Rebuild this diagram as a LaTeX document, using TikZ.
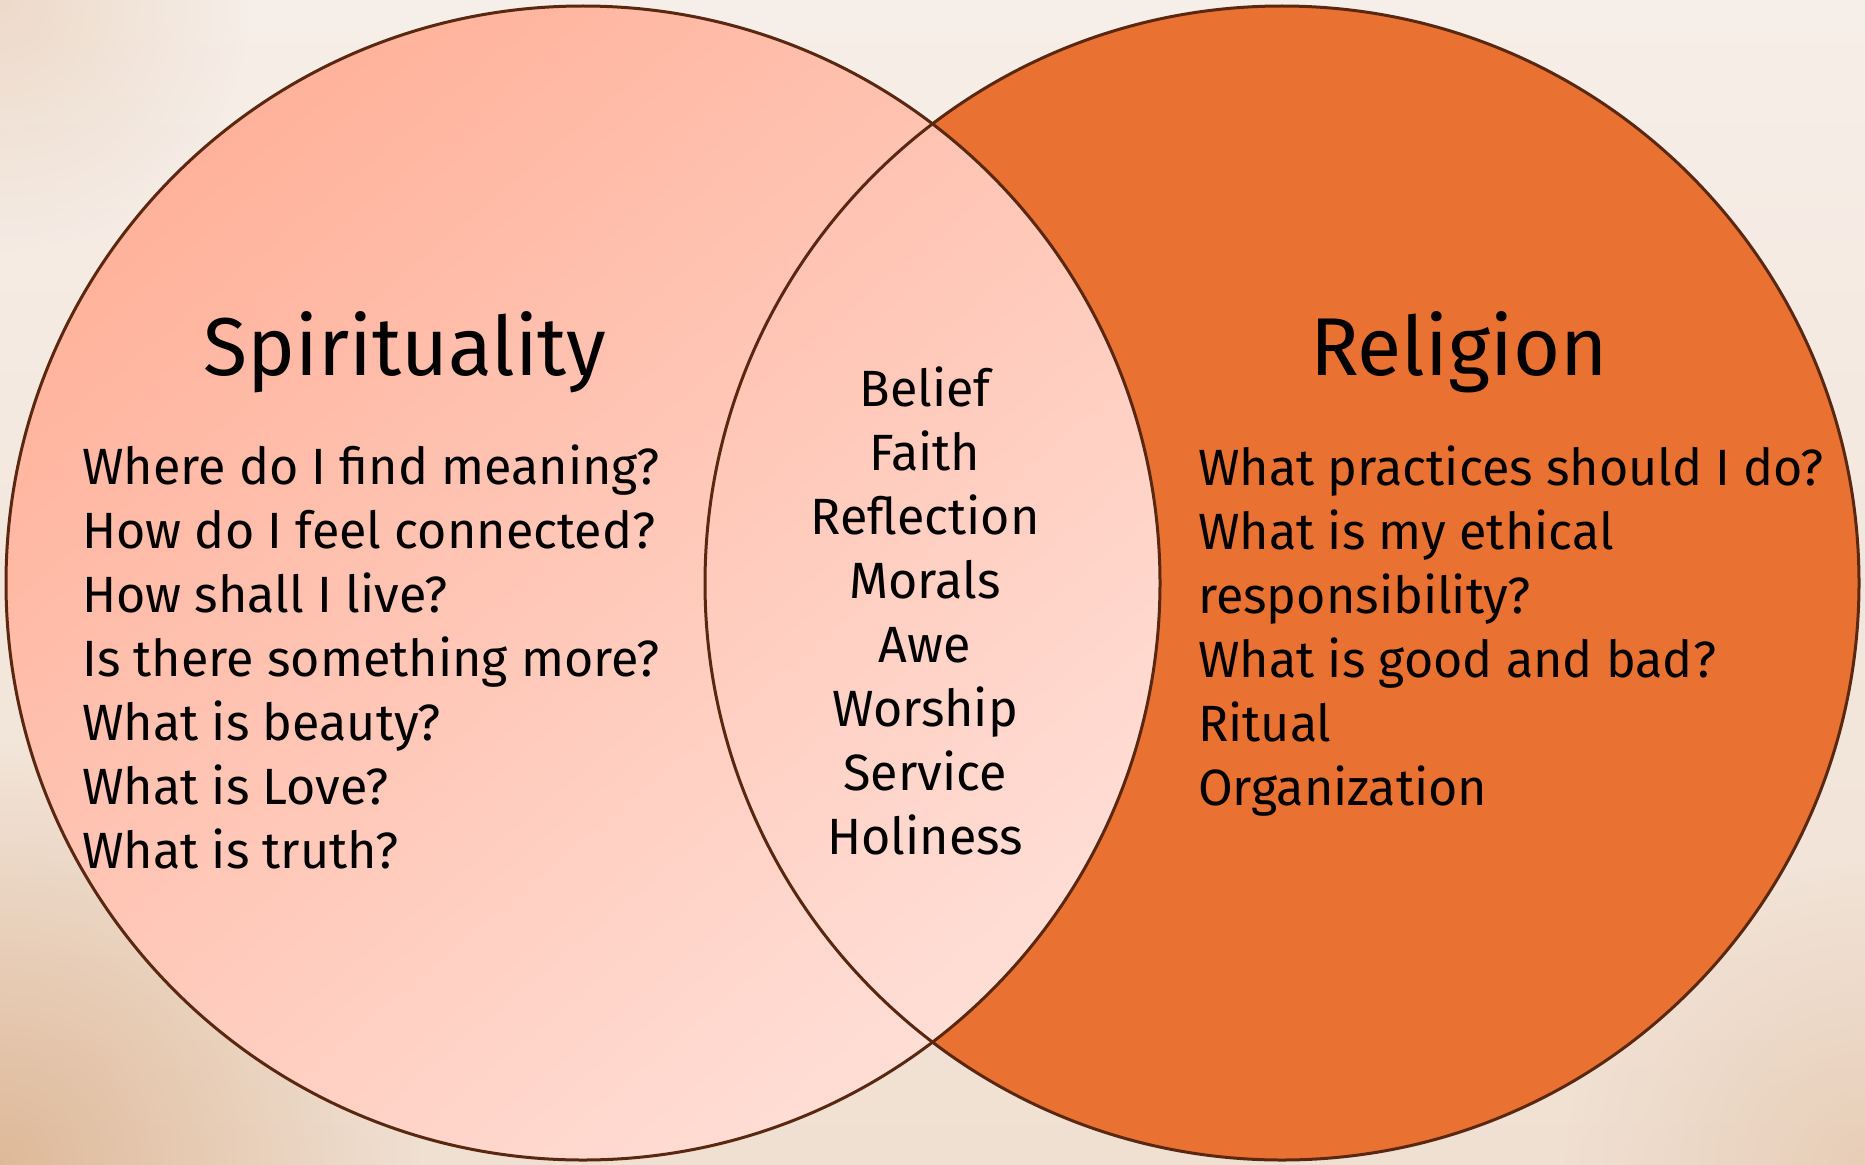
\documentclass[tikz,border=0pt]{standalone}
\usepackage{fontspec}
\setmainfont{Fira Sans}[FakeStretch=0.985]
\usetikzlibrary{fadings}
\tikzfading[name=softglow, inner color=transparent!0, outer color=transparent!100]
\definecolor{bgtop}{HTML}{F6EEE8}
\definecolor{bgbot}{HTML}{F0E0D2}
\definecolor{bgwarm}{HTML}{D9AC86}
\definecolor{spirA}{HTML}{FFB29B}
\definecolor{spirB}{HTML}{FFDED6}
\definecolor{relcol}{HTML}{E97132}
\definecolor{edgecol}{HTML}{5A2810}
\tikzset{
  ring/.style={draw=edgecol, line width=3pt},
  title/.style={font=\fontsize{82}{90}\selectfont, anchor=base, inner sep=0pt},
  item/.style={font=\fontsize{51}{64}\selectfont, anchor=base west, inner sep=0pt},
  mid/.style={font=\fontsize{51}{64}\selectfont, anchor=base, inner sep=0pt}
}
\begin{document}
\begin{tikzpicture}[x=1pt,y=-1pt]
\useasboundingbox (0,0) rectangle (1865,1164);
% background
\shade[top color=bgtop, bottom color=bgbot] (0,0) rectangle (1865,1164);
\fill[bgwarm, path fading=softglow, opacity=0.75] (0,1164) circle (420);
\fill[bgwarm, path fading=softglow, opacity=0.35] (1865,1164) circle (300);
\fill[bgwarm, path fading=softglow, opacity=0.3] (0,0) circle (250);
% circles
\coordinate (cl) at (583,583);
\coordinate (cr) at (1282,583);
\fill[relcol] (cr) circle (577);
\shade[shading=axis, top color=spirA, bottom color=spirB, shading angle=40] (cl) circle (577);
\draw[ring] (cr) circle (577);
\draw[ring] (cl) circle (577);
% titles
\node[title] (tspir) at (405,375) {Spirituality};
\node[title] (trel) at (1459,375) {Religion};
% left list
\foreach \t [count=\i] in {Where do I find meaning?, How do I feel connected?, How shall I live?, Is there something more?, What is beauty?, What is Love?, What is truth?}
  \node[item] (l\i) at (82,{484+64*(\i-1)}) {\t};
% middle list
\foreach \t [count=\i] in {Belief, Faith, Reflection, Morals, Awe, Worship, Service, Holiness}
  \node[mid] (m\i) at (925,{406+64*(\i-1)}) {\t};
% right list
\foreach \t [count=\i] in {What practices should I do?, What is my ethical, responsibility?, What is good and bad?, Ritual, Organization}
  \node[item] (r\i) at (1198,{485+64*(\i-1)}) {\t};
\end{tikzpicture}
\end{document}
